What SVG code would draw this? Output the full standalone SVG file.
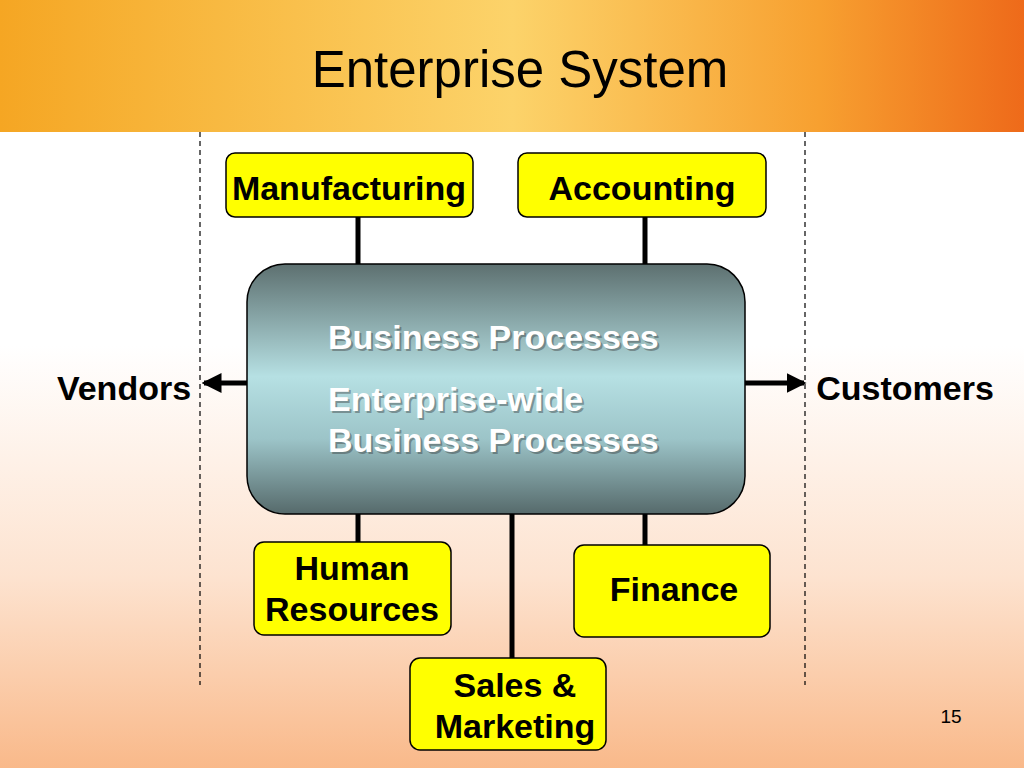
<svg xmlns="http://www.w3.org/2000/svg" width="1024" height="768" viewBox="0 0 1024 768">
<defs>
<linearGradient id="banner" x1="0" y1="0" x2="1" y2="0">
<stop offset="0" stop-color="#f5a623"/><stop offset="0.5" stop-color="#fcd36a"/><stop offset="0.8" stop-color="#f7a030"/><stop offset="1" stop-color="#ee6a1a"/>
</linearGradient>
<linearGradient id="bg" x1="0" y1="0" x2="0" y2="1">
<stop offset="0" stop-color="#ffffff"/><stop offset="0.45" stop-color="#ffffff"/><stop offset="0.75" stop-color="#fde3d0"/><stop offset="1" stop-color="#f9b98a"/>
</linearGradient>
<linearGradient id="box" x1="0" y1="0" x2="0" y2="1">
<stop offset="0" stop-color="#5d7070"/><stop offset="0.45" stop-color="#b6e0e3"/><stop offset="0.7" stop-color="#9cc4c8"/><stop offset="1" stop-color="#566a6b"/>
</linearGradient>
<marker id="arr" markerWidth="4" markerHeight="4" refX="3.5" refY="2" orient="auto" markerUnits="strokeWidth"><path d="M0,0 L4,2 L0,4 z" fill="#000"/></marker>
<style>
.n{fill:#ffff00;stroke:#000;stroke-width:1.5}
.t{font-family:"Liberation Sans",Arial,sans-serif;font-weight:bold;font-size:34px;fill:#000;text-anchor:middle}
.c{stroke:#000;stroke-width:5;fill:none}
.w{font-family:"Liberation Sans",Arial,sans-serif;font-weight:bold;font-size:34px;fill:#fff}
.s{font-family:"Liberation Sans",Arial,sans-serif;font-weight:bold;font-size:34px;fill:#333;opacity:0.4}
</style>
</defs>
<rect width="1024" height="768" fill="url(#bg)"/>
<rect width="1024" height="132" fill="url(#banner)"/>
<text x="520" y="87" font-family="'Liberation Sans',Arial,sans-serif" font-size="51" text-anchor="middle" fill="#000">Enterprise System</text>
<line x1="200" y1="132" x2="200" y2="685" stroke="#000" stroke-width="1.2" stroke-dasharray="5,4"/>
<line x1="805" y1="132" x2="805" y2="685" stroke="#000" stroke-width="1.2" stroke-dasharray="5,4"/>
<g id="connectors">
<line class="c" x1="358" y1="217" x2="358" y2="265"/>
<line class="c" x1="645" y1="217" x2="645" y2="265"/>
<line class="c" x1="358" y1="513" x2="358" y2="542"/>
<line class="c" x1="512" y1="513" x2="512" y2="658"/>
<line class="c" x1="645" y1="513" x2="645" y2="545"/>
<line class="c" x1="247" y1="383" x2="204" y2="383" marker-end="url(#arr)" stroke-width="4"/>
<line class="c" x1="745" y1="383" x2="804" y2="383" marker-end="url(#arr)" stroke-width="4"/>
</g>
<g id="core">
<rect x="247" y="264" width="498" height="250" rx="38" fill="url(#box)" stroke="#000" stroke-width="1.5"/>
<text class="s" x="330" y="351">Business Processes</text>
<text class="s" x="330" y="413">Enterprise-wide</text>
<text class="s" x="330" y="454">Business Processes</text>
<text class="w" x="328" y="349">Business Processes</text>
<text class="w" x="328" y="411">Enterprise-wide</text>
<text class="w" x="328" y="452">Business Processes</text>
</g>
<g id="manufacturing"><rect class="n" x="226" y="153" width="247" height="64" rx="9"/><text class="t" x="349" y="200">Manufacturing</text></g>
<g id="accounting"><rect class="n" x="518" y="153" width="248" height="64" rx="9"/><text class="t" x="642" y="200">Accounting</text></g>
<g id="hr"><rect class="n" x="254" y="542" width="197" height="93" rx="10"/><text class="t" x="352" y="580">Human</text><text class="t" x="352" y="621">Resources</text></g>
<g id="finance"><rect class="n" x="574" y="545" width="196" height="92" rx="10"/><text class="t" x="674" y="601">Finance</text></g>
<g id="sales"><rect class="n" x="410" y="658" width="196" height="92" rx="10"/><text class="t" x="515" y="697">Sales &amp;</text><text class="t" x="515" y="738">Marketing</text></g>
<g id="vendors"><text class="t" x="124" y="400">Vendors</text></g>
<g id="customers"><text class="t" x="905" y="400">Customers</text></g>
<text x="951" y="723" font-family="'Liberation Sans',Arial,sans-serif" font-size="19" text-anchor="middle" fill="#000">15</text>
</svg>
